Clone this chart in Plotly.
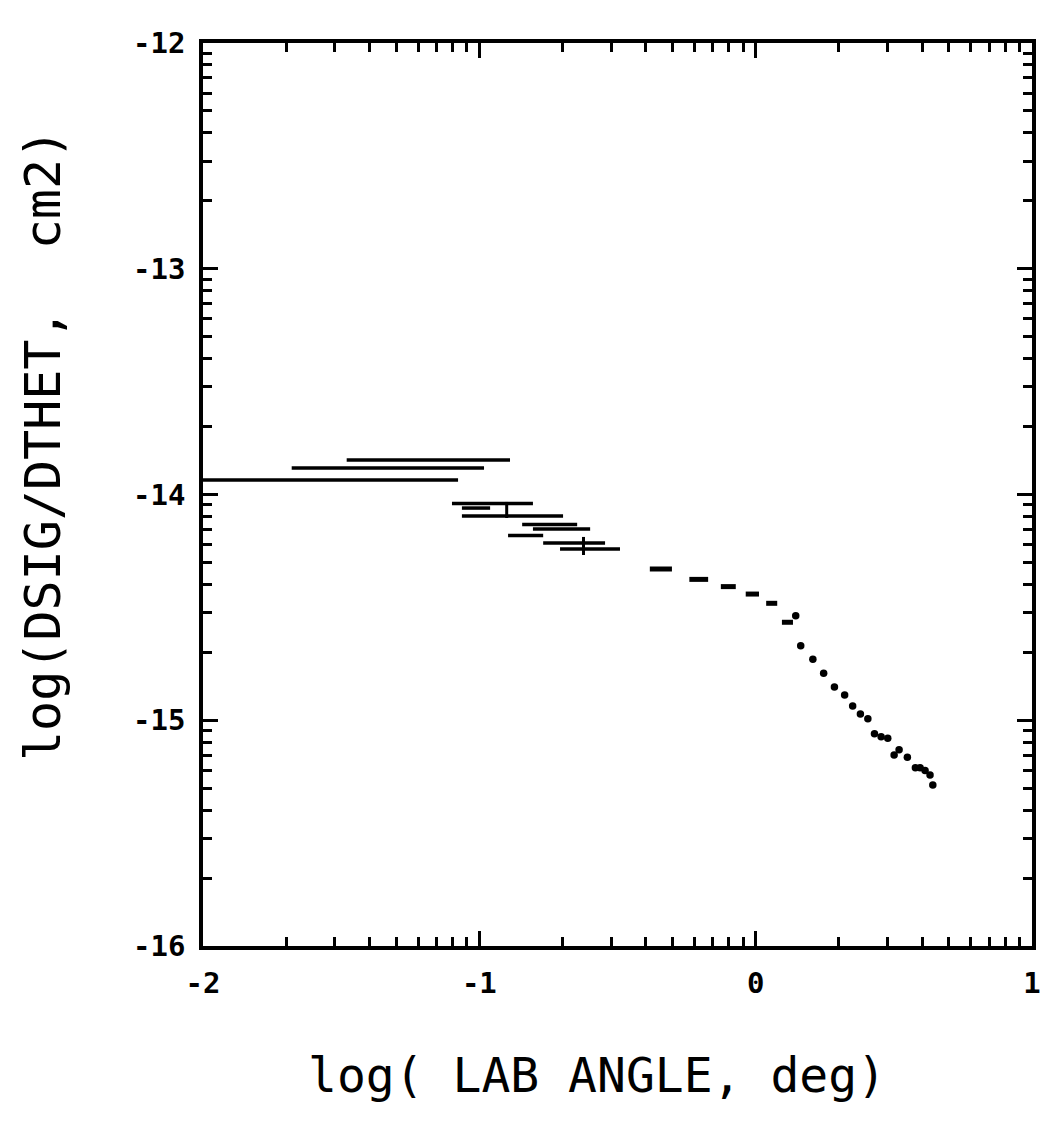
import numpy as np
import plotly.graph_objects as go

# ---- data (log10 lab angle [deg], log10 dsig/dtheta [cm2]) ----
# long horizontal bars (angular ranges)
long_lo = [-2.000, -1.679, -1.480]
long_hi = [-1.077, -0.983, -0.889]
long_y = [-13.936, -13.883, -13.847]

# cluster of short horizontal bars
clus_lo = [-1.099, -1.063, -1.063, -0.845, -0.806, -0.896, -0.769, -0.708]
clus_hi = [-0.806, -0.961, -0.697, -0.646, -0.599, -0.769, -0.545, -0.491]
clus_y = [-14.040, -14.060, -14.095, -14.133, -14.153, -14.182, -14.215, -14.241]

# small vertical error marks in the cluster
verr_x = [-0.901, -0.623]
verr_lo = [-14.104, -14.268]
verr_hi = [-14.033, -14.188]

# dashes
dash_x = [-0.343, -0.206, -0.099, -0.012, 0.058, 0.115]
dash_hw = [0.040, 0.034, 0.027, 0.024, 0.020, 0.020]
dash_y = [-14.330, -14.376, -14.408, -14.441, -14.482, -14.566]

# dots
dot_x = [0.145, 0.163, 0.207, 0.246, 0.285, 0.322, 0.351, 0.379, 0.406, 0.430,
         0.454, 0.478, 0.501, 0.519, 0.549, 0.578, 0.595, 0.613, 0.631, 0.641]
dot_y = [-14.537, -14.670, -14.730, -14.792, -14.853, -14.888, -14.937, -14.972,
         -14.993, -15.060, -15.073, -15.080, -15.154, -15.131, -15.164, -15.210,
         -15.210, -15.223, -15.242, -15.287]

x_major = [-2, -1, 0, 1]
x_major_text = ["-2", "-1", "0", "1"]
y_major = [-16, -15, -14, -13, -12]
y_major_text = ["-16", "-15", "-14", "-13", "-12"]


def segs(lo, hi, y):
    xs, ys = [], []
    for a, b, c in zip(lo, hi, y):
        xs += [a, b, None]
        ys += [c, c, None]
    return xs, ys


def vsegs(x, lo, hi):
    xs, ys = [], []
    for a, b, c in zip(x, lo, hi):
        xs += [a, a, None]
        ys += [b, c, None]
    return xs, ys


fig = go.Figure()

lx, ly = segs(long_lo, long_hi, long_y)
fig.add_trace(go.Scatter(x=lx, y=ly, mode="lines",
                         line=dict(color="black", width=3.5), showlegend=False))

cx, cy = segs(clus_lo, clus_hi, clus_y)
fig.add_trace(go.Scatter(x=cx, y=cy, mode="lines",
                         line=dict(color="black", width=3.5), showlegend=False))

vx, vy = vsegs(verr_x, verr_lo, verr_hi)
fig.add_trace(go.Scatter(x=vx, y=vy, mode="lines",
                         line=dict(color="black", width=3), showlegend=False))

dlo = [a - h for a, h in zip(dash_x, dash_hw)]
dhi = [a + h for a, h in zip(dash_x, dash_hw)]
dx, dy = segs(dlo, dhi, dash_y)
fig.add_trace(go.Scatter(x=dx, y=dy, mode="lines",
                         line=dict(color="black", width=5), showlegend=False))

fig.add_trace(go.Scatter(x=dot_x, y=dot_y, mode="markers",
                         marker=dict(color="black", size=7.5, symbol="circle"),
                         showlegend=False))

# minor ticks at log10(n) positions within each decade
x_minor = [d + np.log10(n) for d in range(-2, 1) for n in range(2, 10)]
y_minor = [d + np.log10(n) for d in range(-16, -12) for n in range(2, 10)]

tick_font = dict(family="DejaVu Sans Mono", size=29, color="black", weight="bold")

common = dict(showgrid=False, zeroline=False, showline=True, linewidth=3.5,
              linecolor="black", mirror="allticks", ticks="inside", ticklen=15,
              tickwidth=3, tickcolor="black", tickfont=tick_font,
              ticklabelstandoff=8)

fig.update_xaxes(range=[-2, 1], tickmode="array", tickvals=x_major,
                 ticktext=x_major_text,
                 minor=dict(tickmode="array", tickvals=x_minor, ticks="inside",
                            ticklen=9, tickwidth=3, tickcolor="black",
                            showgrid=False),
                 **common)
fig.update_yaxes(range=[-16, -12], tickmode="array", tickvals=y_major,
                 ticktext=y_major_text,
                 minor=dict(tickmode="array", tickvals=y_minor, ticks="inside",
                            ticklen=9, tickwidth=3, tickcolor="black",
                            showgrid=False),
                 **common)

L, R, T, B = 203, 21, 43, 187
W, H = 1053, 1133
pw = W - L - R
ph = H - T - B

fig.add_annotation(text="log( LAB ANGLE, deg)", xref="paper", yref="paper",
                   x=(597 - L) / pw, y=-(1075 - (H - B)) / ph,
                   xanchor="center", yanchor="middle", showarrow=False,
                   font=dict(family="DejaVu Sans Mono", size=48, color="black"))
fig.add_annotation(text="log(DSIG/DTHET,  cm2)", xref="paper", yref="paper",
                   x=(43 - L) / pw, y=((H - B) - 445) / ph, textangle=-90,
                   xanchor="center", yanchor="middle", showarrow=False,
                   font=dict(family="DejaVu Sans Mono", size=50, color="black"))

fig.update_layout(width=W, height=H, margin=dict(l=L, r=R, t=T, b=B),
                  paper_bgcolor="white", plot_bgcolor="white")

fig.write_html("out.html")
